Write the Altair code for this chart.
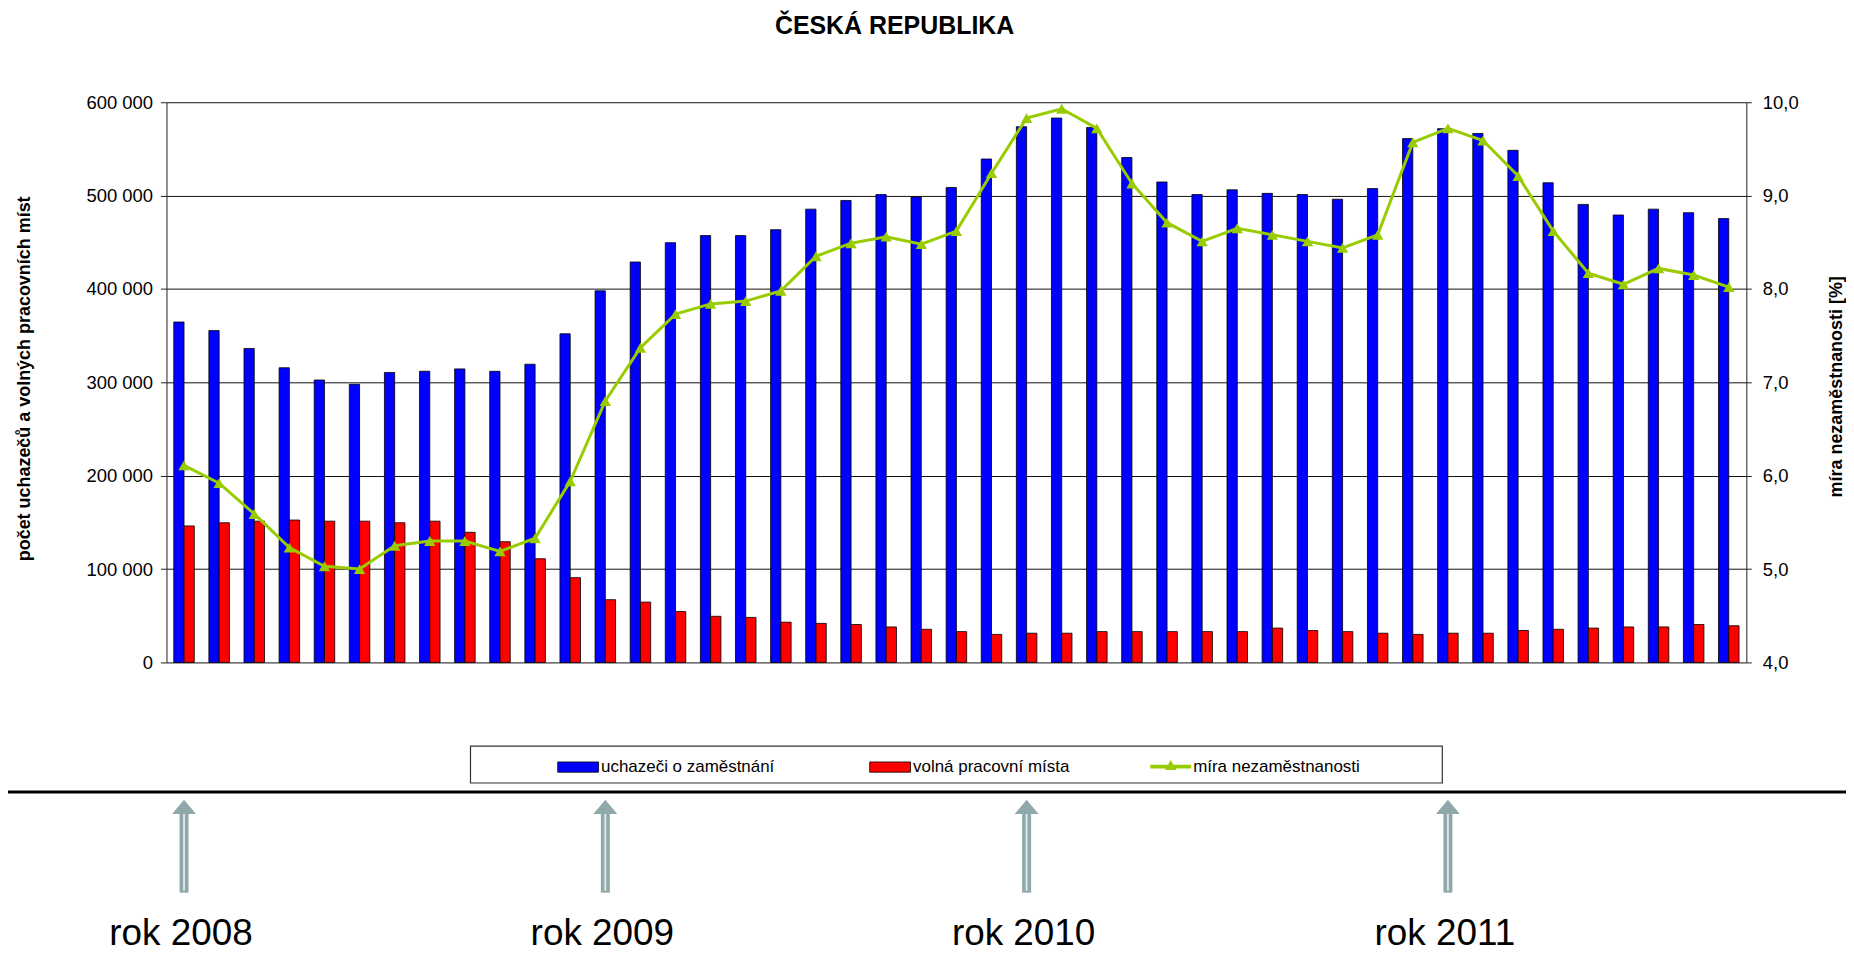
import altair as alt
import pandas as pd

# ---------------- data ----------------
month_names = ["I", "II", "III", "IV", "V", "VI", "VII", "VIII", "IX", "X", "XI", "XII"]
years = [2008, 2009, 2010, 2011]
month_labels = month_names * 3 + month_names[:9]
year_of = [2008] * 12 + [2009] * 12 + [2010] * 12 + [2011] * 9
keys = [f"{y}-{m}" for y, m in zip(year_of, month_labels)]

uchazeci = [
    364600, 355400, 336300, 315600, 302500, 297900, 310600, 311900, 314400, 311800, 319400, 352000,
    398000, 428900, 449600, 457200, 457200, 463500, 485500, 494800, 501100, 498600, 508700, 539200,
    573800, 583100, 573000, 540800, 514600, 501100, 506200, 502400, 501100, 496100, 507500, 561100,
    571700, 566600, 548500, 513800, 490600, 479200, 485500, 481700, 475400,
]
volna = [
    146200, 149600, 151300, 152500, 151300, 151300, 149600, 151300, 139400, 129300, 111100, 90800,
    67200, 64600, 54500, 49400, 48200, 43100, 41800, 40600, 38000, 35500, 33000, 30000,
    31300, 31300, 33000, 33000, 33000, 33000, 33000, 36800, 34200, 33000, 31300, 30000,
    31300, 31300, 34200, 35500, 36800, 38000, 38000, 40600, 39300,
]
mira = [
    6.11, 5.92, 5.59, 5.23, 5.03, 5.00, 5.25, 5.30, 5.30, 5.19, 5.33, 5.94,
    6.80, 7.37, 7.73, 7.84, 7.87, 7.98, 8.35, 8.49, 8.56, 8.48, 8.62, 9.24,
    9.83, 9.93, 9.72, 9.13, 8.71, 8.51, 8.65, 8.58, 8.51, 8.44, 8.58, 9.57,
    9.72, 9.59, 9.21, 8.62, 8.17, 8.05, 8.22, 8.15, 8.02,
]
left_ticks = [0, 100000, 200000, 300000, 400000, 500000, 600000]
right_ticks = [4, 5, 6, 7, 8, 9, 10]

SER_U = "uchazeči o zaměstnání"
SER_V = "volná pracovní místa"
SER_M = "míra nezaměstnanosti"

bars_df = pd.DataFrame({
    "key": keys * 2,
    "series": [SER_U] * len(keys) + [SER_V] * len(keys),
    "value": uchazeci + volna,
})
rate_df = pd.DataFrame({"key": keys, "series": SER_M, "rate": mira})
year_df = pd.DataFrame({"key": [f"{y}-I" for y in years], "label": [f"rok {y}" for y in years]})
one_df = pd.DataFrame({"d": [0]})

# ---------------- styles ----------------
FONT = "Liberation Sans"
BLUE = "#0000FF"
RED = "#FF0000"
GREEN = "#99CC00"
ARROW = "#8FA8A9"
AX = "#222222"

W, H = 1585, 562
PAD = {"left": 159, "top": 93, "right": 100, "bottom": 295}

RECT_PATH = "M-1,-0.25H1V0.25H-1Z"
LINE_PATH = "M-1,-0.09H1V0.09H-1Z M0,-0.32L0.28,0.17H-0.28Z"
HEAD_PATH = "M0,-0.6L1,0.6H-1Z"

x_enc = alt.X(
    "key:N",
    scale=alt.Scale(domain=keys, paddingInner=0, paddingOuter=0),
    axis=alt.Axis(
        title=None, labelExpr="split(datum.value, '-')[1]", labelAngle=0,
        tickBand="extent", tickSize=5, tickColor=AX, domainColor=AX,
        labelFontSize=18.5, labelFont=FONT, labelColor="black",
        labelBaseline="middle", labelPadding=19, grid=False,
    ),
)
x_plain = alt.X("key:N", scale=alt.Scale(domain=keys), axis=None)

bars = alt.Chart(bars_df).mark_bar(stroke="black", strokeWidth=0.8).encode(
    x=x_enc,
    xOffset=alt.XOffset(
        "series:N",
        scale=alt.Scale(domain=[SER_U, SER_V], paddingInner=0, paddingOuter=0.71),
    ),
    y=alt.Y(
        "value:Q",
        scale=alt.Scale(domain=[0, 600000], nice=False),
        axis=alt.Axis(
            orient="left", values=left_ticks,
            labelExpr="datum.value == 0 ? '0' : format(datum.value / 1000, 'd') + ' 000'",
            labelFontSize=18.5, labelFont=FONT, labelColor="black", labelPadding=8,
            tickSize=6, tickColor=AX, domainColor=AX,
            grid=True, gridColor="#111111", gridWidth=1,
            title="počet uchazečů a volných pracovních míst",
            titleFont=FONT, titleFontSize=18, titleFontWeight="bold", titleColor="black",
            titleAngle=270, titleX=-142, titleY=277, titleBaseline="middle", titleAlign="center",
        ),
    ),
    color=alt.Color(
        "series:N",
        scale=alt.Scale(domain=[SER_U, SER_V], range=[BLUE, RED]),
        legend=alt.Legend(
            title=None, orient="none", legendX=392, legendY=646, direction="horizontal",
            columns=2, columnPadding=93, padding=0, symbolType=RECT_PATH, symbolSize=1681,
            symbolStrokeColor="black", symbolStrokeWidth=0.8, labelOffset=2,
            labelFontSize=17, labelFont=FONT, labelColor="black", labelLimit=400,
        ),
    ),
)

rate_y = alt.Y(
    "rate:Q",
    scale=alt.Scale(domain=[4, 10], nice=False, zero=False),
    axis=alt.Axis(
        orient="right", values=right_ticks,
        labelExpr="replace(format(datum.value, '.1f'), '.', ',')",
        labelFontSize=18.5, labelFont=FONT, labelColor="black", labelPadding=11,
        tickSize=5, tickColor=AX, domainColor=AX, grid=False,
        title="míra nezaměstnanosti [%]",
        titleFont=FONT, titleFontSize=18, titleFontWeight="bold", titleColor="black",
        titleAngle=270, titleX=90, titleY=285, titleBaseline="middle", titleAlign="center",
    ),
)

line = alt.Chart(rate_df).mark_line(color=GREEN, strokeWidth=3).encode(x=x_plain, y=rate_y)
points = alt.Chart(rate_df).mark_point(
    shape="triangle-up", filled=True, size=130, color=GREEN, opacity=1
).encode(
    x=x_plain,
    y=rate_y,
    opacity=alt.Opacity(
        "series:O",
        scale=alt.Scale(domain=[SER_M], range=[1]),
        legend=alt.Legend(
            title=None, orient="none", legendX=987, legendY=646, padding=0,
            symbolType=LINE_PATH, symbolSize=1681, symbolFillColor=GREEN,
            symbolStrokeWidth=0, labelOffset=2,
            labelFontSize=17, labelFont=FONT, labelColor="black", labelLimit=400,
        ),
    ),
)
rate_layer = alt.layer(line, points)

legend_box = alt.Chart(one_df).mark_rect(
    fillOpacity=0, stroke="#333333", strokeWidth=1.2
).encode(
    x=alt.value(305), x2=alt.value(1280), y=alt.value(646), y2=alt.value(683)
)
black_line = alt.Chart(one_df).mark_rule(color="black", strokeWidth=3).encode(
    x=alt.value(-159), x2=alt.value(1685), y=alt.value(692)
)

shaft = alt.Chart(year_df).mark_rule(color=ARROW, strokeWidth=9).encode(
    x=x_plain, y=alt.value(711), y2=alt.value(793)
)
shaft_inner = alt.Chart(year_df).mark_rule(color="#DCE6E6", strokeWidth=2).encode(
    x=x_plain, y=alt.value(713), y2=alt.value(791)
)
head = alt.Chart(year_df).mark_point(
    shape=HEAD_PATH, filled=True, size=576, color=ARROW, opacity=1
).encode(x=x_plain, y=alt.value(707))
year_text = alt.Chart(year_df).mark_text(
    font=FONT, fontSize=37, baseline="alphabetic", align="center", color="black", dx=-3
).encode(x=x_plain, y=alt.value(846), text="label:N")

chart = alt.layer(
    bars, rate_layer, legend_box, black_line, shaft, shaft_inner, head, year_text
).resolve_scale(
    y="independent"
).properties(
    width=W, height=H,
    title=alt.TitleParams(
        "ČESKÁ REPUBLIKA", font=FONT, fontSize=25, fontWeight="bold", color="black",
        anchor="middle", dx=-62, offset=54, frame="group",
    ),
    autosize=alt.AutoSizeParams(type="none"),
    padding=PAD,
    background="white",
).configure_view(stroke=None)

chart.save("out.html", embed_options={"renderer": "svg", "actions": False})
